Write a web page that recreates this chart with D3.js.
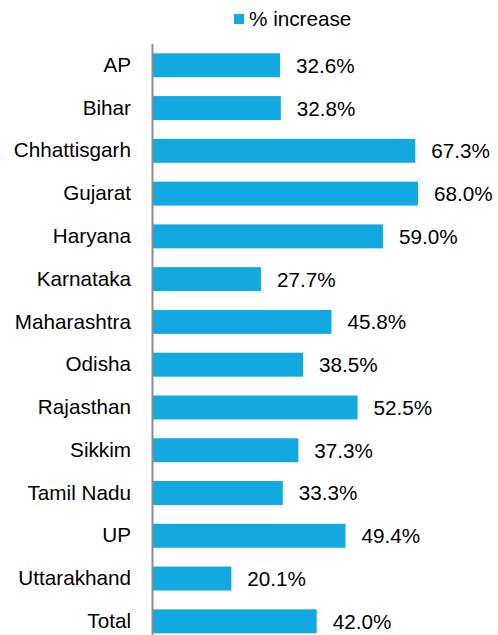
<!DOCTYPE html>
<html>
<head>
<meta charset="utf-8">
<script src="https://cdn.jsdelivr.net/npm/d3@7"></script>
<style>
  html, body { margin: 0; padding: 0; background: #fff; }
  svg { display: block; }
  text { font-family: "Liberation Sans", Arial, sans-serif; fill: #000; }
</style>
</head>
<body>
<div id="chart"></div>
<script>
const categories = ["AP", "Bihar", "Chhattisgarh", "Gujarat", "Haryana", "Karnataka", "Maharashtra", "Odisha", "Rajasthan", "Sikkim", "Tamil Nadu", "UP", "Uttarakhand", "Total"];
const increase = [32.6, 32.8, 67.3, 68.0, 59.0, 27.7, 45.8, 38.5, 52.5, 37.3, 33.3, 49.4, 20.1, 42.0];
const seriesName = "% increase";

const W = 498, H = 635;
const color = "#12a9e1";
const fs = 20.7;

const svg = d3.select("#chart").append("svg")
  .attr("width", W).attr("height", H);

const x = d3.scaleLinear().domain([0, 68]).range([153, 418]);
const y = d3.scaleBand().domain(categories).range([43.9, 642.7])
  .paddingInner(0.44).paddingOuter(0.22);

// bars
svg.append("g").selectAll("rect").data(categories).join("rect")
  .attr("x", x(0))
  .attr("y", d => y(d))
  .attr("width", (d, i) => x(increase[i]) - x(0))
  .attr("height", y.bandwidth())
  .attr("fill", color);

// value labels
svg.append("g").selectAll("text").data(categories).join("text")
  .attr("x", (d, i) => x(increase[i]) + 16)
  .attr("y", d => y(d) + y.bandwidth() / 2)
  .attr("dy", "0.36em")
  .attr("font-size", fs)
  .text((d, i) => increase[i].toFixed(1) + "%");

// category axis
const axis = d3.axisLeft(y).tickSize(0).tickPadding(22);
const gAxis = svg.append("g").attr("transform", `translate(${x(0)},0)`).call(axis);
gAxis.select(".domain").remove();
gAxis.selectAll("text")
  .attr("font-size", fs)
  .attr("font-family", "Liberation Sans, Arial, sans-serif")
  .attr("fill", "#000");
svg.append("line")
  .attr("x1", x(0) - 0.5).attr("x2", x(0) - 0.5)
  .attr("y1", 44).attr("y2", H)
  .attr("stroke", "#8c8c8c").attr("stroke-width", 2);

// legend
const lg = svg.append("g");
lg.append("rect").attr("x", 234).attr("y", 14).attr("width", 10).attr("height", 10).attr("fill", color);
lg.append("text").attr("x", 249).attr("y", 25.5).attr("font-size", fs).text(seriesName);
</script>
</body>
</html>
